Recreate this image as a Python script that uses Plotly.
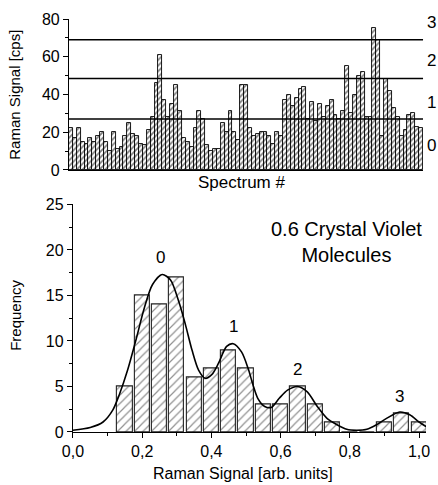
import plotly.graph_objects as go

# ---- Top panel: Raman signal per spectrum ----
spectrum_signal = [22, 17, 22, 15, 14, 17, 15, 18, 20, 15, 10, 20, 11, 12, 18, 25, 19, 18, 14, 13, 21, 28, 46,
                   61, 37, 28, 35, 45, 31, 17, 15, 12, 22, 31, 27, 13, 10, 11, 11, 25, 20, 31, 20, 16, 45, 45,
                   22, 18, 19, 20, 20, 18, 14, 20, 18,
                   37, 40, 34, 38, 43, 44, 27, 36, 26, 35, 28, 34, 37, 29, 27, 31,
                   55, 30, 40, 50, 52, 28, 28, 75, 69, 18, 48, 42, 33, 28, 18, 21, 29, 30, 23, 22]
spectrum_index = list(range(1, len(spectrum_signal) + 1))
level_lines = [27, 48.5, 69]
level_labels = ["0", "1", "2", "3"]
level_label_y = [13.2, 36, 58, 78]

# ---- Bottom panel: histogram + fit ----
hist_centers = [0.15, 0.20, 0.25, 0.30, 0.35, 0.40, 0.45, 0.50, 0.55, 0.60, 0.65, 0.70, 0.75, 0.80, 0.85, 0.90, 0.95, 1.00]
hist_counts = [5, 15, 14, 17, 6, 7, 9, 7, 3, 3, 5, 3, 1, 0, 0, 1, 2, 1]
fit_x = [0.0, 0.05, 0.087, 0.115, 0.134, 0.158, 0.182, 0.206, 0.23, 0.258, 0.282, 0.306, 0.325, 0.344, 0.363,
         0.382, 0.401, 0.42, 0.444, 0.463, 0.487, 0.506, 0.52, 0.534, 0.554, 0.573, 0.596, 0.62, 0.649, 0.677,
         0.706, 0.734, 0.763, 0.791, 0.82, 0.849, 0.877, 0.906, 0.944, 0.973, 1.0, 1.024]
fit_y = [0.2, 0.5, 1.1, 2.4, 4.1, 6.8, 10.1, 13.6, 16.2, 17.3, 16.7, 14.3, 11.8, 9.0, 6.8,
         5.9, 6.3, 7.5, 9.4, 9.7, 8.8, 7.0, 5.2, 3.7, 2.8, 2.7, 3.7, 4.6, 5.0, 4.4,
         2.8, 1.5, 0.8, 0.3, 0.2, 0.3, 0.8, 1.5, 2.2, 1.9, 1.1, 0.5]
peak_labels = ["0", "1", "2", "3"]
peak_label_x = [0.253, 0.463, 0.649, 0.944]
peak_label_y = [19.2, 11.6, 6.9, 3.9]
x_ticks = [0.0, 0.2, 0.4, 0.6, 0.8, 1.0]
x_ticktext = ["0,0", "0,2", "0,4", "0,6", "0,8", "1,0"]

FONT = "Liberation Sans, Arial, sans-serif"

fig = go.Figure()

fig.add_trace(go.Bar(
    x=spectrum_index, y=spectrum_signal, xaxis="x", yaxis="y",
    marker=dict(color="white", line=dict(color="black", width=0.9),
                pattern=dict(shape="/", fgcolor="black", bgcolor="white", size=4, solidity=0.45)),
    showlegend=False,
))

fig.add_trace(go.Bar(
    x=hist_centers, y=hist_counts, xaxis="x2", yaxis="y2", width=0.044,
    marker=dict(color="white", line=dict(color="#222222", width=1.1),
                pattern=dict(shape="/", fgcolor="#222222", bgcolor="white", size=6, solidity=0.2)),
    showlegend=False,
))

fig.add_trace(go.Scatter(
    x=fit_x, y=fit_y, xaxis="x2", yaxis="y2", mode="lines",
    line=dict(color="black", width=1.6, shape="spline", smoothing=0.8),
    showlegend=False, cliponaxis=False,
))

shapes = []
for lv in level_lines:
    shapes.append(dict(type="line", xref="x domain", yref="y", x0=0, x1=1, y0=lv, y1=lv,
                       line=dict(color="black", width=1.6)))

annotations = []
for lab, ly in zip(level_labels, level_label_y):
    annotations.append(dict(text=lab, xref="x domain", yref="y", x=1.0, y=ly, xanchor="left",
                            yanchor="middle", xshift=2, showarrow=False, font=dict(size=17, family=FONT)))
for lab, px, py in zip(peak_labels, peak_label_x, peak_label_y):
    annotations.append(dict(text=lab, xref="x2", yref="y2", x=px, y=py, xanchor="center", yanchor="middle",
                            showarrow=False, font=dict(size=17, family=FONT)))
annotations += [
    dict(text="0.6 Crystal Violet<br>Molecules", xref="paper", yref="paper", x=0.776, y=0.461,
         xanchor="center", yanchor="middle",
         showarrow=False, font=dict(size=20, family=FONT), align="center"),
    dict(text="Raman Signal [cps]", xref="paper", yref="paper", x=-0.152, y=0.816, textangle=-90,
         xanchor="center", yanchor="middle", showarrow=False, font=dict(size=15, family=FONT)),
    dict(text="Spectrum #", xref="paper", yref="paper", x=0.482, y=0.603,
         xanchor="center", yanchor="middle", showarrow=False, font=dict(size=17, family=FONT)),
    dict(text="Frequency", xref="paper", yref="paper", x=-0.152, y=0.283, textangle=-90,
         xanchor="center", yanchor="middle", showarrow=False, font=dict(size=15, family=FONT)),
    dict(text="Raman Signal [arb. units]", xref="paper", yref="paper", x=0.487, y=-0.100,
         xanchor="center", yanchor="middle", showarrow=False, font=dict(size=16, family=FONT)),
]

axis_common = dict(showline=True, linecolor="black", linewidth=1.2, ticks="outside", ticklen=5,
                   tickwidth=1.2, tickcolor="black", showgrid=False, zeroline=False,
                   tickfont=dict(size=16, family=FONT, color="black"))

fig.update_layout(
    width=438, height=485,
    margin=dict(l=69, r=8, t=19, b=53),
    paper_bgcolor="white", plot_bgcolor="white",
    bargap=0,
    font=dict(family=FONT, color="black"),
    xaxis=dict(domain=[0, 0.9917], range=[0.5, len(spectrum_signal) + 0.5], showline=True,
               linecolor="black", linewidth=1.2, showticklabels=False, ticks="", showgrid=False,
               zeroline=False, anchor="y"),
    yaxis=dict(domain=[0.6344, 1.0], range=[0, 80], tickvals=[0, 20, 40, 60, 80],
               minor=dict(tickvals=[10, 30, 50, 70], ticks="outside", ticklen=3, tickcolor="black"),
               anchor="x", **axis_common),
    xaxis2=dict(domain=[0.011, 1.0], range=[0, 1.02], tickvals=x_ticks, ticktext=x_ticktext,
                minor=dict(tickvals=[0.1, 0.3, 0.5, 0.7, 0.9], ticks="outside", ticklen=3, tickcolor="black"),
                anchor="y2", **axis_common),
    yaxis2=dict(domain=[0, 0.551], range=[0, 25], tickvals=[0, 5, 10, 15, 20, 25],
                minor=dict(tickvals=[2.5, 7.5, 12.5, 17.5, 22.5], ticks="outside", ticklen=3, tickcolor="black"),
                anchor="x2", **axis_common),
    shapes=shapes,
    annotations=annotations,
)

fig.write_html("out.html")
